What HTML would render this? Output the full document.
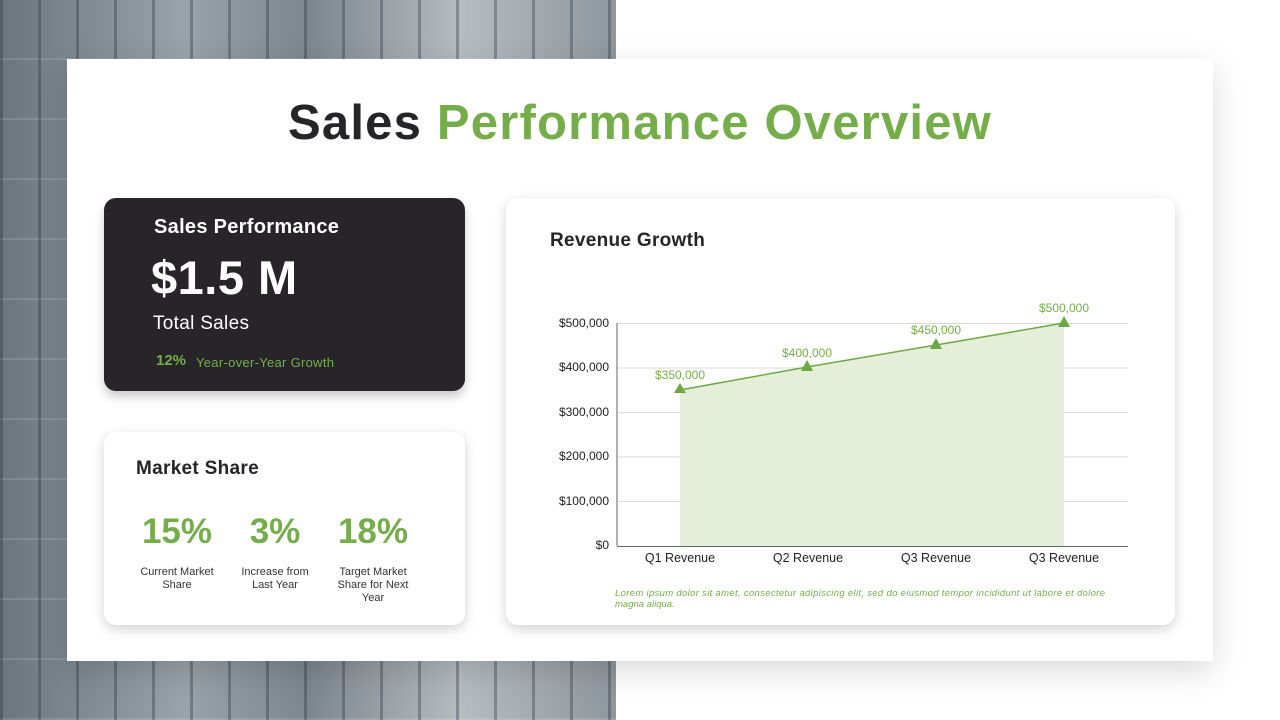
<!DOCTYPE html>
<html><head><meta charset="utf-8"><style>
*{margin:0;padding:0;box-sizing:border-box}
body{width:1280px;height:720px;position:relative;overflow:hidden;background:#fff;font-family:"Liberation Sans",sans-serif}
.bg{position:absolute;left:0;top:0;width:616px;height:720px;
background:
repeating-linear-gradient(90deg,rgba(40,50,60,.35) 0 3px,transparent 3px 38px),
repeating-linear-gradient(0deg,rgba(255,255,255,.12) 0 2px,transparent 2px 60px),
linear-gradient(90deg,#6b757e 0%,#9aa3aa 30%,#7d868e 50%,#b6bcc1 75%,#8e979e 100%);}
.panel{position:absolute;left:67px;top:59px;width:1146px;height:602px;background:#fff;box-shadow:0 10px 30px rgba(0,0,0,.15)}
h1{position:absolute;left:0;top:95px;width:1280px;text-align:center;font-size:49px;font-weight:bold;color:#252427;letter-spacing:1.2px}
h1 span{color:#75ad4b}
.dark{position:absolute;left:104px;top:198px;width:361px;height:193px;background:#272528;border-radius:12px;box-shadow:0 6px 10px rgba(0,0,0,.2);color:#fff}
.card{position:absolute;background:#fff;border-radius:12px;box-shadow:0 4px 12px rgba(0,0,0,.18)}
.g{color:#75ad4b}
</style></head><body>
<div class="bg"></div>
<div class="panel"></div>
<h1>Sales <span>Performance Overview</span></h1>
<div class="dark">
 <div style="position:absolute;left:50px;top:18px;font-size:20px;font-weight:bold;letter-spacing:.3px">Sales Performance</div>
 <div style="position:absolute;left:47px;top:52px;font-size:47px;font-weight:bold;letter-spacing:.5px">$1.5 M</div>
 <div style="position:absolute;left:49px;top:115px;font-size:19px;letter-spacing:.3px">Total Sales</div>
 <div style="position:absolute;left:52px;top:154px;font-size:15px;font-weight:bold" class="g">12%</div>
 <div style="position:absolute;left:92px;top:157px;font-size:13px;letter-spacing:.3px" class="g">Year-over-Year Growth</div>
</div>
<div class="card" style="left:104px;top:432px;width:361px;height:193px">
 <div style="position:absolute;left:32px;top:26px;font-size:19px;font-weight:bold;color:#252427;letter-spacing:.3px">Market Share</div>
 <div style="position:absolute;left:23px;top:80px;width:100px;text-align:center;font-size:35px;font-weight:bold" class="g">15%</div>
 <div style="position:absolute;left:121px;top:80px;width:100px;text-align:center;font-size:35px;font-weight:bold" class="g">3%</div>
 <div style="position:absolute;left:219px;top:80px;width:100px;text-align:center;font-size:35px;font-weight:bold" class="g">18%</div>
 <div style="position:absolute;left:28px;top:134px;width:90px;text-align:center;font-size:11px;line-height:13px;color:#333">Current Market Share</div>
 <div style="position:absolute;left:131px;top:134px;width:80px;text-align:center;font-size:11px;line-height:13px;color:#333">Increase from Last Year</div>
 <div style="position:absolute;left:229px;top:134px;width:80px;text-align:center;font-size:11px;line-height:13px;color:#333">Target Market Share for Next Year</div>
</div>
<div class="card" style="left:506px;top:198px;width:669px;height:427px">
 <div style="position:absolute;left:44px;top:32px;font-size:19px;font-weight:bold;color:#252427;letter-spacing:.3px">Revenue Growth</div>
</div>
<svg style="position:absolute;left:0;top:0" width="1280" height="720" font-family="Liberation Sans,sans-serif">
 <g stroke="#d9d9d9" stroke-width="1">
  <line x1="617" x2="1128" y1="323.5" y2="323.5"/><line x1="617" x2="1128" y1="368" y2="368"/>
  <line x1="617" x2="1128" y1="412.5" y2="412.5"/><line x1="617" x2="1128" y1="457" y2="457"/>
  <line x1="617" x2="1128" y1="501.5" y2="501.5"/>
 </g>
 <polygon points="680,390 807,367 936,345 1064,323 1064,546 680,546" fill="#e4eed9"/>
 <line x1="617" y1="323" x2="617" y2="546" stroke="#666"/>
 <line x1="617" y1="546.5" x2="1128" y2="546.5" stroke="#666"/>
 <polyline points="680,390 807,367 936,345 1064,323" fill="none" stroke="#6da844" stroke-width="1.5"/>
 <g fill="#6da844">
  <polygon points="680,383 686,393 674,393"/><polygon points="807,360 813,371 801,371"/>
  <polygon points="936,338 942,349 930,349"/><polygon points="1064,316 1070,327 1058,327"/>
 </g>
 <g font-size="12" fill="#75ad4b" text-anchor="middle">
  <text x="680" y="379">$350,000</text><text x="807" y="357">$400,000</text>
  <text x="936" y="334">$450,000</text><text x="1064" y="312">$500,000</text>
 </g>
 <g font-size="12" fill="#222" text-anchor="end">
  <text x="609" y="327">$500,000</text><text x="609" y="371">$400,000</text>
  <text x="609" y="416">$300,000</text><text x="609" y="460">$200,000</text>
  <text x="609" y="505">$100,000</text><text x="609" y="549">$0</text>
 </g>
 <g font-size="12.5" fill="#222" text-anchor="middle">
  <text x="680" y="562">Q1 Revenue</text><text x="808" y="562">Q2 Revenue</text>
  <text x="936" y="562">Q3 Revenue</text><text x="1064" y="562">Q3 Revenue</text>
 </g>
 <g font-size="9.5" fill="#75ad4b" font-style="italic">
  <text x="615" y="596" textLength="490" lengthAdjust="spacing">Lorem ipsum dolor sit amet, consectetur adipiscing elit, sed do eiusmod tempor incididunt ut labore et dolore</text>
  <text x="615" y="607">magna aliqua.</text>
 </g>
</svg>
</body></html>
